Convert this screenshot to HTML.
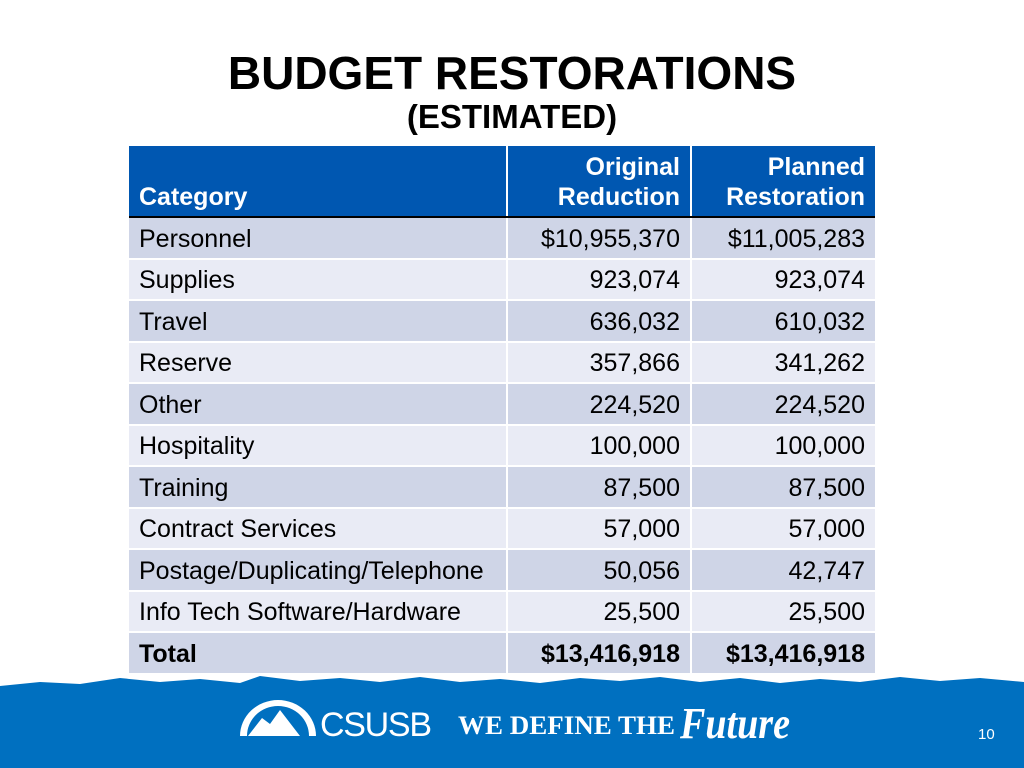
<!DOCTYPE html>
<html><head><meta charset="utf-8"><style>
body{margin:0;width:1024px;height:768px;background:#fff;position:relative;overflow:hidden;font-family:"Liberation Sans",Arial,sans-serif}
h1{position:absolute;top:46px;left:0;width:1024px;text-align:center;margin:0;font-size:46px;font-weight:bold;color:#000}
h2{position:absolute;top:98px;left:0;width:1024px;text-align:center;margin:0;font-size:33px;font-weight:bold}
table{position:absolute;left:129px;top:146px;border-collapse:collapse;font-size:25px}
td,th{padding:0 10px;height:41.5px;box-sizing:border-box;border-right:2px solid #fff;border-bottom:2px solid #fff}
td{padding-top:3px}
th{background:#0057b1;color:#fff;font-weight:bold;height:71px;vertical-align:bottom;padding-bottom:4px;line-height:30px;border-bottom:2px solid #000}
td.n,th.n{text-align:right}
tr.o td{background:#cfd5e7}tr.e td{background:#e9ebf5}
tr.t td{font-weight:bold;border-top:2px solid #000}
#footer{position:absolute;left:0;top:672px;width:1024px;height:96px}
</style></head><body>
<h1>BUDGET RESTORATIONS</h1>
<h2>(ESTIMATED)</h2>
<table><thead><tr>
<th style="width:378px;text-align:left">Category</th>
<th class="n" style="width:184px">Original<br>Reduction</th>
<th class="n" style="width:184px;border-right:none">Planned<br>Restoration</th></tr></thead><tbody id="tb"></tbody></table>
<svg id="footer" viewBox="0 0 1024 96">
<path d="M0 14 L40 10 L80 12 L120 6 L160 10 L200 7 L240 11 L260 4 L300 9 L340 6 L380 10 L420 5 L460 10 L500 7 L540 11 L580 6 L620 9 L660 5 L700 10 L740 6 L780 11 L820 7 L860 10 L900 5 L940 9 L980 6 L1024 10 L1024 96 L0 96Z" fill="#0070c0"/>
<path d="M240 64 A38 36 0 0 1 316 64 L309 64 A31 30 0 0 0 247 64Z M248 64 L262 46 L270 52 L280 38 L300 64Z" fill="#fff"/>
<text x="320" y="64" fill="#fff" font-size="34" font-family="Liberation Sans" textLength="112">CSUSB</text>
<text x="458" y="62" fill="#fff" font-size="26" font-weight="bold" font-family="Liberation Serif" textLength="217" lengthAdjust="spacingAndGlyphs">WE DEFINE THE</text>
<text x="680" y="66" fill="#fff" font-size="44" font-style="italic" font-weight="bold" font-family="Liberation Serif" textLength="110" lengthAdjust="spacingAndGlyphs">Future</text>
<text x="978" y="67" fill="#fff" font-size="15" font-family="Liberation Sans">10</text>
</svg>
<script>
const categories=["Personnel","Supplies","Travel","Reserve","Other","Hospitality","Training","Contract Services","Postage/Duplicating/Telephone","Info Tech Software/Hardware"];
const originalReduction=[10955370,923074,636032,357866,224520,100000,87500,57000,50056,25500];
const plannedRestoration=[11005283,923074,610032,341262,224520,100000,87500,57000,42747,25500];
const totals=[13416918,13416918];
const fmt=(v,d)=>(d?"$":"")+v.toLocaleString("en-US");
const tb=document.getElementById("tb");
function row(cls,c,a,b,name){const tr=document.createElement("tr");tr.className=cls;


[c,a,b].forEach((t,i)=>{const td=document.createElement("td");td.textContent=t;if(i)td.className="n";if(i==2)td.style.borderRight="none";


tr.appendChild(td);});tb.appendChild(tr);}
categories.forEach((c,i)=>row(i%2?"e":"o",c,fmt(originalReduction[i],i==0),fmt(plannedRestoration[i],i==0),"row-"+c.toLowerCase().replace(/[^a-z]+/g,"-")));
row("o t","Total",fmt(totals[0],1),fmt(totals[1],1),"total-row");
</script>
</body></html>
